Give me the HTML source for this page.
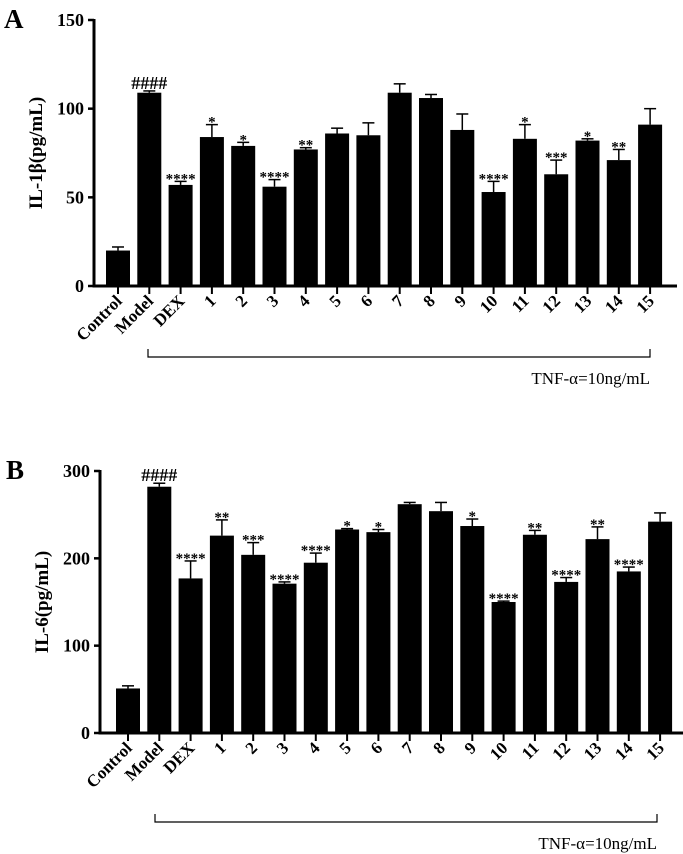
<!DOCTYPE html>
<html><head><meta charset="utf-8"><style>
body{margin:0;background:#fff;}
svg{display:block;font-family:"Liberation Serif",serif;}
</style></head><body>
<svg id="c" width="683" height="854"></svg>
<script>
const categories=["Control","Model","DEX","1","2","3","4","5","6","7","8","9","10","11","12","13","14","15"];
const il1bValues=[20,109,57,84,79,56,77,86,85,109,106,88,53,83,63,82,71,91];
const il1bErrors=[2,1,2,7,2,4,1,3,7,5,2,9,6,8,8,1,6,9];
const il1bMarks=["","####","****","*","*","****","**","","","","","","****","*","***","*","**",""];
const il1bTicks=[0,50,100,150];
const il6Values=[51,282,177,226,204,171,195,233,230,262,254,237,150,227,173,222,185,242];
const il6Errors=[3,4,20,18,14,2,11,1,3,2,10,8,1,5,5,14,5,10];
const il6Marks=["","####","****","**","***","****","****","*","*","","","*","****","**","****","**","****",""];
const il6Ticks=[0,100,200,300];
const NS="http://www.w3.org/2000/svg";
const svg=document.getElementById('c');
function el(t,a,txt){const e=document.createElementNS(NS,t);for(const k in a)e.setAttribute(k,a[k]);if(txt!==undefined)e.textContent=txt;svg.appendChild(e);return e;}
function panel(p){
  const y=v=>p.y0-(v/p.max)*(p.y0-p.yTop);
  const x=i=>p.x0+i*p.step;
  let t=el('text',{x:p.lx,y:p.yTop+8,'font-size':27,'font-weight':'bold'},p.letter);
  
  
  let a=el('line',{x1:p.ax,y1:p.yTop-1,x2:p.ax,y2:p.y0+1.5,stroke:'#000','stroke-width':3});
  
  
  a=el('line',{x1:p.ax-1.5,y1:p.y0,x2:p.xEnd,y2:p.y0,stroke:'#000','stroke-width':3});
  
  
  p.ticks.forEach(v=>{
    let l=el('line',{x1:p.ax-6,y1:y(v),x2:p.ax,y2:y(v),stroke:'#000','stroke-width':2.5});
    
    
    let tt=el('text',{x:p.ax-10,y:y(v)+6,'font-size':18,'font-weight':'bold','text-anchor':'end'},v);
    
    
  });
  let yt=el('text',{x:0,y:0,'font-size':19,'font-weight':'bold','text-anchor':'middle',transform:`translate(${p.ax-52},${(p.yTop+p.y0)/2}) rotate(-90)`},p.title);
  
  
  p.values.forEach((v,i)=>{
    const cx=x(i),bw=24;
    const et=y(v+p.errors[i]);
    let e=el('line',{x1:cx,y1:y(v),x2:cx,y2:et,stroke:'#000','stroke-width':1.5});
    
    
    e=el('line',{x1:cx-6,y1:et,x2:cx+6,y2:et,stroke:'#000','stroke-width':1.5});
    
    
    let r=el('rect',{x:cx-bw/2,y:y(v),width:bw,height:p.y0-y(v),fill:'#000'});
    
    
    let tk=el('line',{x1:cx,y1:p.y0,x2:cx,y2:p.y0+8,stroke:'#000','stroke-width':2});
    
    
    let lb=el('text',{x:0,y:0,'font-size':17,'font-weight':'bold','text-anchor':'end',transform:`translate(${cx+5},${p.y0+16}) rotate(-45)`},categories[i]);
    
    
    if(p.marks[i]){
      const isH=p.marks[i][0]==='#';
      let m=el('text',{x:cx,y:et-(isH?2:-2),'font-size':isH?18:15,'font-weight':'bold','text-anchor':'middle'},p.marks[i]);
      
      
    }
  });
  let b=el('path',{d:`M${p.bx1},${p.by-8}V${p.by}H${p.bx2}V${p.by-8}`,fill:'none',stroke:'#000','stroke-width':1.2});
  
  
  let bt=el('text',{x:p.bx2,y:p.by+27,'font-size':17,'text-anchor':'end'},'TNF-α=10ng/mL');
  
  
}
panel({letter:'A',lx:4,ax:94,yTop:20,y0:286,max:150,x0:118,step:31.3,xEnd:677,values:il1bValues,errors:il1bErrors,marks:il1bMarks,ticks:il1bTicks,title:'IL-1β(pg/mL)',bx1:148,bx2:650,by:357});
panel({letter:'B',lx:6,ax:100,yTop:471,y0:733,max:300,x0:128,step:31.3,xEnd:683,values:il6Values,errors:il6Errors,marks:il6Marks,ticks:il6Ticks,title:'IL-6(pg/mL)',bx1:155,bx2:657,by:822});
</script>
</body></html>
